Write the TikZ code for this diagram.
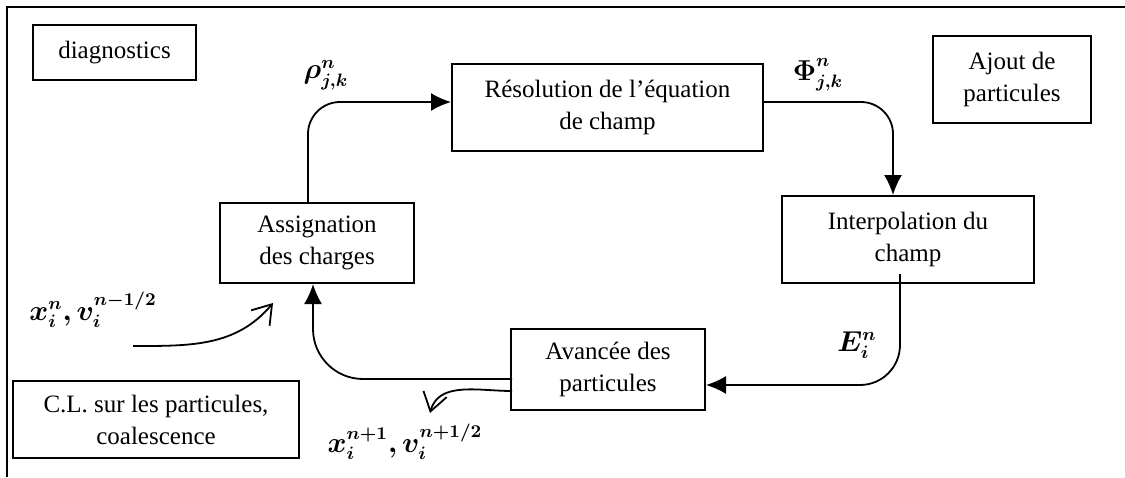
\documentclass[tikz,border=0pt]{standalone}
\usepackage{fontspec}
\setmainfont{Liberation Serif}
\usepackage{amsmath}
\usepackage{bm}
\usepackage{tikz}
\usetikzlibrary{arrows.meta}

\begin{document}
\begin{tikzpicture}[x=0.5pt, y=-0.5pt, >={Latex[length=10pt,width=9pt]}, line width=0.9pt, inner sep=0pt,
	box/.style={draw=black, line width=1pt, align=center, font=\fontsize{12.5}{16}\selectfont},
	lbl/.style={font=\fontsize{13.5}{15}\selectfont},
	barb/.style={-{Straight Barb[length=9pt,width=12pt]}}]
			\useasboundingbox (0,0) rectangle (1125,477);
			\draw[line width=1.2pt] (1125,7) -- (7,7) -- (7,477);

			\node[box, minimum width=81.5pt, minimum height=27.5pt](diag) at (114.5,52.5) {diagnostics};
			\node[box, minimum width=79pt, minimum height=43.5pt](ajout) at (1012,79.5) {Ajout de\\particules};
			\node[box, minimum width=143pt, minimum height=38.5pt](cl) at (156,419.5) {C.L. sur les particules,\\coalescence};

			\node[box, minimum width=155.5pt, minimum height=43.5pt](res) at (607.5,107.5) {Résolution de l’équation\\de champ};
			\node[box, minimum width=126pt, minimum height=43.5pt](interp) at (908,239.5) {Interpolation du\\champ};
			\node[box, minimum width=97pt, minimum height=40.5pt](avance) at (608,369.5) {Avancée des\\particules};
			\node[box, minimum width=97pt, minimum height=40pt](assign) at (317,243) {Assignation\\des charges};

			\node[lbl](rho) at (326,75) {$\bm{\rho^{n}_{j,k}}$};
			\node[lbl](phi) at (818,75) {$\bm{\Phi^{n}_{j,k}}$};
			\node[lbl](efield) at (857,345) {$\bm{E^{n}_{i}}$};
			\node[lbl](xvold) at (93,310) {$\bm{x^{n}_{i}, v^{n-1/2}_{i}}$};
			\node[lbl](xvnew) at (405,442) {$\bm{x^{n+1}_{i}, v^{n+1/2}_{i}}$};

			\coordinate (in0) at (133,346);
			\coordinate (in1) at (273,303);
			\coordinate (out2) at (430,413);

			\draw[->, rounded corners=16pt] ([xshift=-4.5pt]assign.north) |- ([yshift=2.75pt]res.west);
			\draw[->, rounded corners=16pt] ([yshift=2.75pt]res.east) -| ([xshift=-7.5pt]interp.north);
			\draw[->, rounded corners=20pt] ([xshift=-4pt, yshift=5pt]interp.south) |- ([yshift=-7.75pt]avance.east);
			\draw[->, rounded corners=25pt] ([xshift=1pt, yshift=-4.75pt]avance.west) -| ([xshift=-2pt]assign.south);

			\draw[barb] ([xshift=1pt, yshift=-10.75pt]avance.west) to[out=180, in=75] (out2);
			\draw[barb] (in0) to[out=0, in=230] (in1);
		\end{tikzpicture}
\end{document}
